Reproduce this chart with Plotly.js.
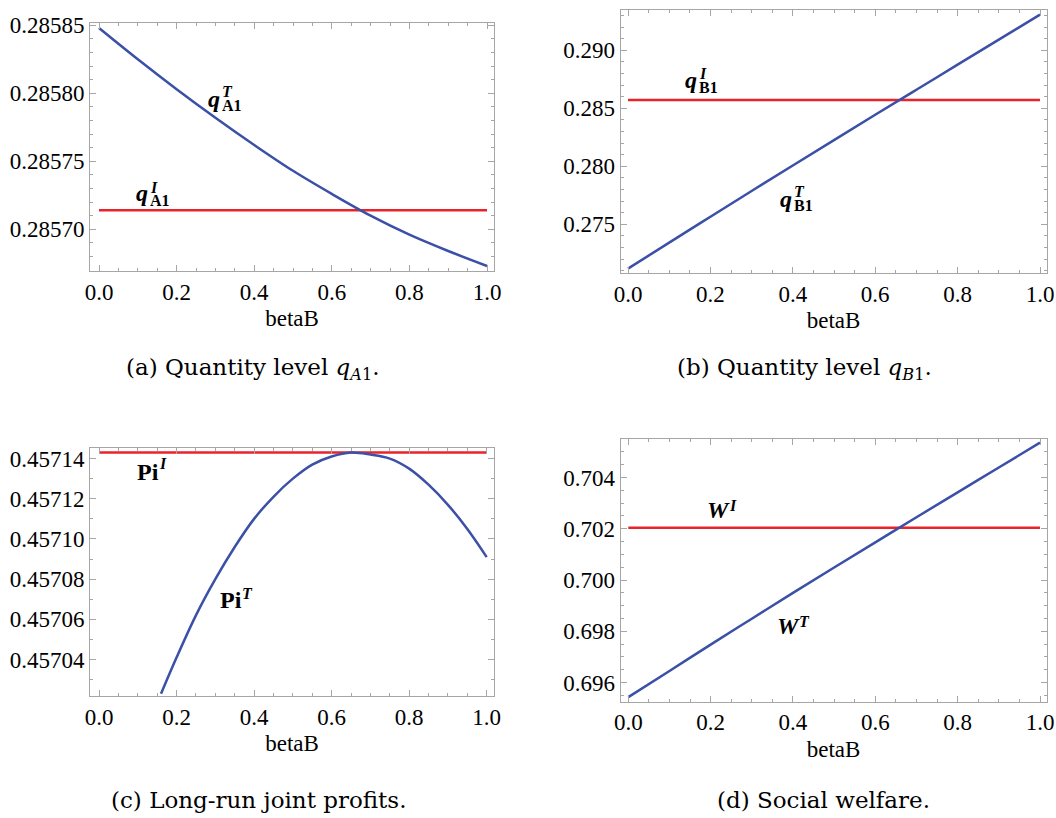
<!DOCTYPE html>
<html>
<head>
<meta charset="utf-8">
<script src="https://cdn.plot.ly/plotly-3.0.1.min.js"></script>
<style>html,body{margin:0;padding:0;background:#fff;}#chart{width:1056px;height:818px;}</style>
</head>
<body>
<div id="chart"></div>
<script>
// ---------------- data ----------------
const betaB = [0, 0.1, 0.2, 0.3, 0.4, 0.5, 0.6, 0.7, 0.8, 0.9, 1.0];
const qA1T = [0.285848, 0.285825, 0.285803, 0.285782, 0.285762, 0.285743, 0.285726, 0.285710, 0.285696, 0.285684, 0.285673];
const qA1I = 0.285714;
const qB1T = [0.27118, 0.27342, 0.27565, 0.27787, 0.28007, 0.28226, 0.28444, 0.28660, 0.28876, 0.29092, 0.29308];
const qB1I = 0.285714;
const betaPi = [0.16, 0.2, 0.25, 0.3, 0.35, 0.4, 0.45, 0.5, 0.55, 0.6, 0.65, 0.7, 0.75, 0.8, 0.85, 0.9, 0.95, 1.0];
const PiT = [0.457023, 0.457041, 0.457062, 0.457080, 0.457096, 0.457110, 0.457121, 0.457130, 0.457137, 0.457141, 0.457143, 0.457142, 0.457140, 0.457135, 0.457127, 0.457117, 0.457105, 0.457091];
const PiI = 0.457143;
const WT = [0.69543, 0.69645, 0.69748, 0.69849, 0.69950, 0.70049, 0.70147, 0.70245, 0.70342, 0.70439, 0.70536];
const WI = 0.70204;
const constX = [0, 1];
const xTicks = [0, 0.2, 0.4, 0.6, 0.8, 1.0];
const yTicksA = [0.28570, 0.28575, 0.28580, 0.28585];
const yTicksB = [0.275, 0.280, 0.285, 0.290];
const yTicksC = [0.45704, 0.45706, 0.45708, 0.45710, 0.45712, 0.45714];
const yTicksD = [0.696, 0.698, 0.700, 0.702, 0.704];
const captions = ["(a) Quantity level <i>q</i><sub><i>A</i>1</sub>.",
                  "(b) Quantity level <i>q</i><sub><i>B</i>1</sub>.",
                  "(c) Long-run joint profits.",
                  "(d) Social welfare."];
const xTitle = "betaB";

// ---------------- layout helpers ----------------
const W = 1056, H = 818;
const BLUE = '#3b50a6', RED = '#e8232a', FRAME = '#a6a6a6';
const FONT = 'Liberation Serif';
const CAPFONT = 'DejaVu Serif';

const panels = [
  {L: 90,    R: 494,    T: 22.5,  B: 271,   x0: 99,    x1: 487,  yr: [0.2856693, 0.2858521], tv: yTicksA, fmt: '.5f', minor: 0.00001, st: 0.28570},
  {L: 620.5, R: 1046.5, T: 10,    B: 273,   x0: 628,   x1: 1040, yr: [0.270802, 0.293474],   tv: yTicksB, fmt: '.3f', minor: 0.001,   st: 0.275},
  {L: 90,    R: 494,    T: 447.7, B: 696,   x0: 99,    x1: 486.7, yr: [0.4570219, 0.4571454], tv: yTicksC, fmt: '.5f', minor: 0.00001, st: 0.45704},
  {L: 620.5, R: 1046.5, T: 438.5, B: 701.7, x0: 628.3, x1: 1040, yr: [0.695251, 0.705522],   tv: yTicksD, fmt: '.3f', minor: 0.0005,  st: 0.696}
];

const layout = {
  width: W, height: H,
  margin: {l: 0, r: 0, t: 0, b: 0},
  paper_bgcolor: '#fff', plot_bgcolor: '#fff',
  showlegend: false,
  font: {family: FONT, size: 23, color: '#000'},
  annotations: []
};

panels.forEach((p, i) => {
  const n = i === 0 ? '' : String(i + 1);
  const span = p.x1 - p.x0;
  layout['xaxis' + n] = {
    domain: [p.L / W, p.R / W],
    range: [(p.L - p.x0) / span, (p.R - p.x0) / span],
    anchor: 'y' + n,
    tickvals: xTicks, tickformat: '.1f',
    ticks: 'inside', ticklen: 6, tickwidth: 1, tickcolor: FRAME,
    minor: {dtick: 0.05, tick0: 0, ticks: 'inside', ticklen: 3, tickcolor: FRAME},
    showline: true, linecolor: FRAME, linewidth: 1, mirror: 'ticks',
    showgrid: false, zeroline: false,
    tickfont: {family: FONT, size: 23, color: '#000'},
    title: {text: xTitle, font: {family: FONT, size: 23, color: '#000'}, standoff: 6}
  };
  layout['yaxis' + n] = {
    domain: [1 - p.B / H, 1 - p.T / H],
    range: p.yr,
    anchor: 'x' + n,
    tickvals: p.tv, tickformat: p.fmt,
    ticks: 'inside', ticklen: 6, tickwidth: 1, tickcolor: FRAME,
    minor: {dtick: p.minor, tick0: p.st, ticks: 'inside', ticklen: 3, tickcolor: FRAME},
    showline: true, linecolor: FRAME, linewidth: 1, mirror: 'ticks',
    showgrid: false, zeroline: false,
    tickfont: {family: FONT, size: 23, color: '#000'}
  };
});

// ---------------- traces ----------------
function curve(x, y, n) {
  return {x: x, y: y, xaxis: 'x' + n, yaxis: 'y' + n, type: 'scatter', mode: 'lines',
          line: {color: BLUE, width: 2.5, shape: 'spline', smoothing: 1}, hoverinfo: 'skip'};
}
function flat(v, n) {
  return {x: constX, y: constX.map(() => v), xaxis: 'x' + n, yaxis: 'y' + n, type: 'scatter', mode: 'lines',
          line: {color: RED, width: 2.5}, hoverinfo: 'skip'};
}
const data = [
  flat(qA1I, ''), curve(betaB, qA1T, ''),
  flat(qB1I, '2'), curve(betaB, qB1T, '2'),
  flat(PiI, '3'), curve(betaPi, PiT, '3'),
  flat(WI, '4'), curve(betaB, WT, '4')
];

// ---------------- text labels (pixel positions) ----------------
function lab(px, py, text, size, xanchor, family) {
  layout.annotations.push({
    xref: 'paper', yref: 'paper', x: px / W, y: 1 - py / H,
    xanchor: xanchor || 'center', yanchor: 'middle', showarrow: false,
    text: text, font: {family: family || FONT, size: size, color: '#000'}
  });
}
function math(px, py, main, sup, sub, supX, supY, subY, mainAnchor) {
  lab(px, py, main, 24, mainAnchor || 'center');
  if (sup) lab(supX, supY, '<b><i>' + sup + '</i></b>', 16, 'left');
  if (sub) lab(supX, subY, '<b>' + sub + '</b>', 16, 'left');
}
// panel (a)
math(214, 98.5, '<b><i>q</i></b>', 'T', 'A1', 220, 92, 106);
math(142, 193.5, '<b><i>q</i></b>', 'I', 'A1', 147.5, 187, 201);
// panel (b)
math(691, 80.5, '<b><i>q</i></b>', 'I', 'B1', 697, 73, 87);
math(786, 198.5, '<b><i>q</i></b>', 'T', 'B1', 792, 192, 205);
// panel (c)
math(135, 471.5, '<b>Pi</b>', 'I', null, 157, 464, 0, 'left');
math(218, 600, '<b>Pi</b>', 'T', null, 240, 593, 0, 'left');
// panel (d)
math(705, 510, '<b><i>W</i></b>', 'I', null, 727, 505, 0, 'left');
math(775, 626, '<b><i>W</i></b>', 'T', null, 797, 621, 0, 'left');

// captions
lab(252, 369, captions[0], 23, 'center', CAPFONT);
lab(804, 369, captions[1], 23, 'center', CAPFONT);
lab(258, 800, captions[2], 23, 'center', CAPFONT);
lab(823, 800, captions[3], 23, 'center', CAPFONT);

Plotly.newPlot('chart', data, layout, {staticPlot: true, displayModeBar: false});
</script>
</body>
</html>
